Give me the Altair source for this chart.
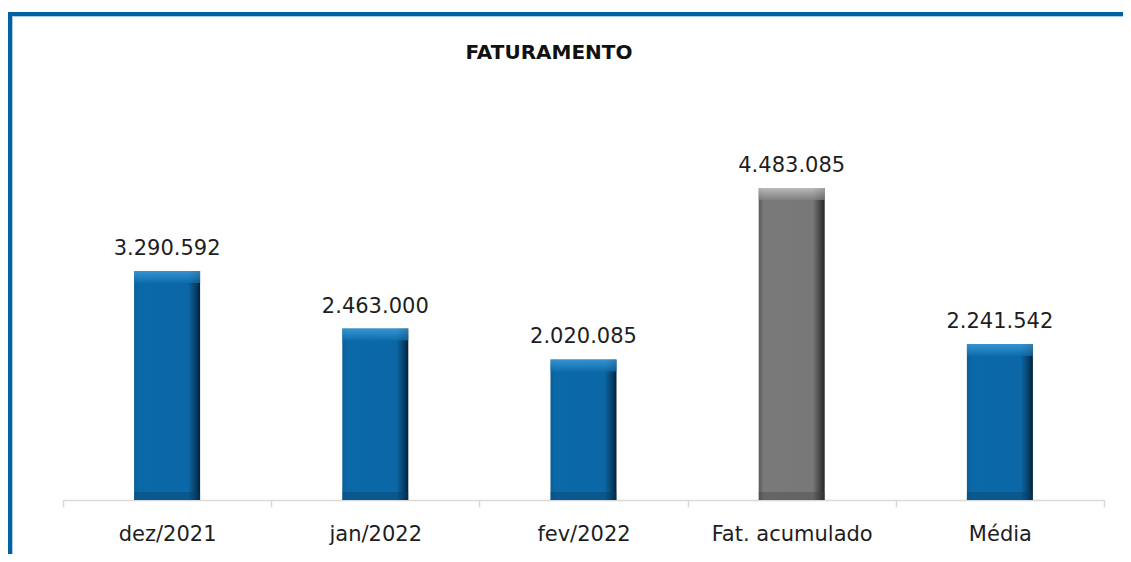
import altair as alt
import pandas as pd

TITLE = "FATURAMENTO"
categories = ["dez/2021", "jan/2022", "fev/2022", "Fat. acumulado", "Média"]
values = [3290592, 2463000, 2020085, 4483085, 2241542]
kinds = ["blue", "blue", "blue", "gray", "blue"]
value_labels = [f"{v:,}".replace(",", ".") for v in values]

df = pd.DataFrame({"cat": categories, "value": values, "kind": kinds, "label": value_labels})

FONT = "DejaVu Sans"
BORDER = "#0062a1"

x_enc = alt.X("cat:N", sort=categories, title=None,
              scale=alt.Scale(paddingInner=0, paddingOuter=0),
              axis=alt.Axis(labelAngle=0, labelFontSize=21, labelFont=FONT, labelColor="#1e1e1e",
                            domainColor="#d9d9d9", domainWidth=1.5, tickColor="#d9d9d9", tickWidth=1.5,
                            tickSize=7, tickBand="extent", labelPadding=16, grid=False))
y_enc = alt.Y("value:Q", axis=None, scale=alt.Scale(domain=[0, 5000000]))

base = alt.Chart(df)

def bar_layer(kind, stops, top_stops, bottom_color):
    sub = base.transform_filter(alt.datum.kind == kind)
    body = sub.mark_bar(width=66, color=alt.Gradient(
        gradient="linear", x1=0, x2=1, y1=0, y2=0,
        stops=[alt.GradientStop(offset=o, color=c) for o, c in stops])).encode(x=x_enc, y=y_enc)
    top = sub.mark_tick(size=66, thickness=12, yOffset=6, color=alt.Gradient(
        gradient="linear", x1=0, x2=0, y1=0, y2=1,
        stops=[alt.GradientStop(offset=o, color=c) for o, c in top_stops])).encode(x=x_enc, y=y_enc)
    bottom = sub.mark_tick(size=66, thickness=8, yOffset=-4, color=bottom_color, opacity=0.35).encode(
        x=x_enc, y=alt.Y("zero:Q", axis=None, scale=alt.Scale(domain=[0, 5000000]))
    ).transform_calculate(zero="0")
    return [body, top, bottom]

blue_layers = bar_layer(
    "blue",
    [(0, "#0a5d95"), (0.07, "#0b69a8"), (0.82, "#0b67a5"), (0.92, "#08456f"), (1, "#03213a")],
    [(0, "#4aa6e0"), (0.5, "#2a8bcc"), (1, "#0f6eae")],
    "#063d63",
)
gray_layers = bar_layer(
    "gray",
    [(0, "#5a5a5a"), (0.08, "#7a7a7a"), (0.82, "#787878"), (0.92, "#4a4a4a"), (1, "#262626")],
    [(0, "#d6d6d6"), (0.5, "#ababab"), (1, "#838383")],
    "#3f3f3f",
)

text = base.mark_text(fontSize=21, font=FONT, color="#1e1e1e", baseline="alphabetic", dy=-16).encode(
    x=x_enc, y=y_enc, text="label:N")

title = alt.Chart(pd.DataFrame({"t": [TITLE]})).mark_text(
    fontSize=20, font=FONT, fontWeight="bold", color="#111111", baseline="alphabetic", align="center"
).encode(text="t:N", x=alt.value(486), y=alt.value(-93))

one = alt.Data(values=[{}])
top_border = alt.Chart(one).mark_rule(color=BORDER, strokeWidth=4).encode(
    x=alt.value(-55), x2=alt.value(1060), y=alt.value(-138))
top_inner = alt.Chart(one).mark_rule(color="#a9c9e2", strokeWidth=1).encode(
    x=alt.value(-51), x2=alt.value(1060), y=alt.value(-135.5))
left_border = alt.Chart(one).mark_rule(color=BORDER, strokeWidth=4).encode(
    x=alt.value(-53), y=alt.value(-140), y2=alt.value(402))
left_inner = alt.Chart(one).mark_rule(color="#a9c9e2", strokeWidth=1).encode(
    x=alt.value(-50.5), y=alt.value(-136), y2=alt.value(402))

chart = alt.layer(
    *blue_layers, *gray_layers, text, title, top_border, top_inner, left_border, left_inner
).properties(
    width=1041, height=348,
    autosize=alt.AutoSizeParams(type="none"),
    padding={"left": 55, "top": 144, "right": 19, "bottom": 54},
).configure_view(strokeWidth=0)

chart.save("out.html", embed_options={"renderer": "svg", "actions": False})
